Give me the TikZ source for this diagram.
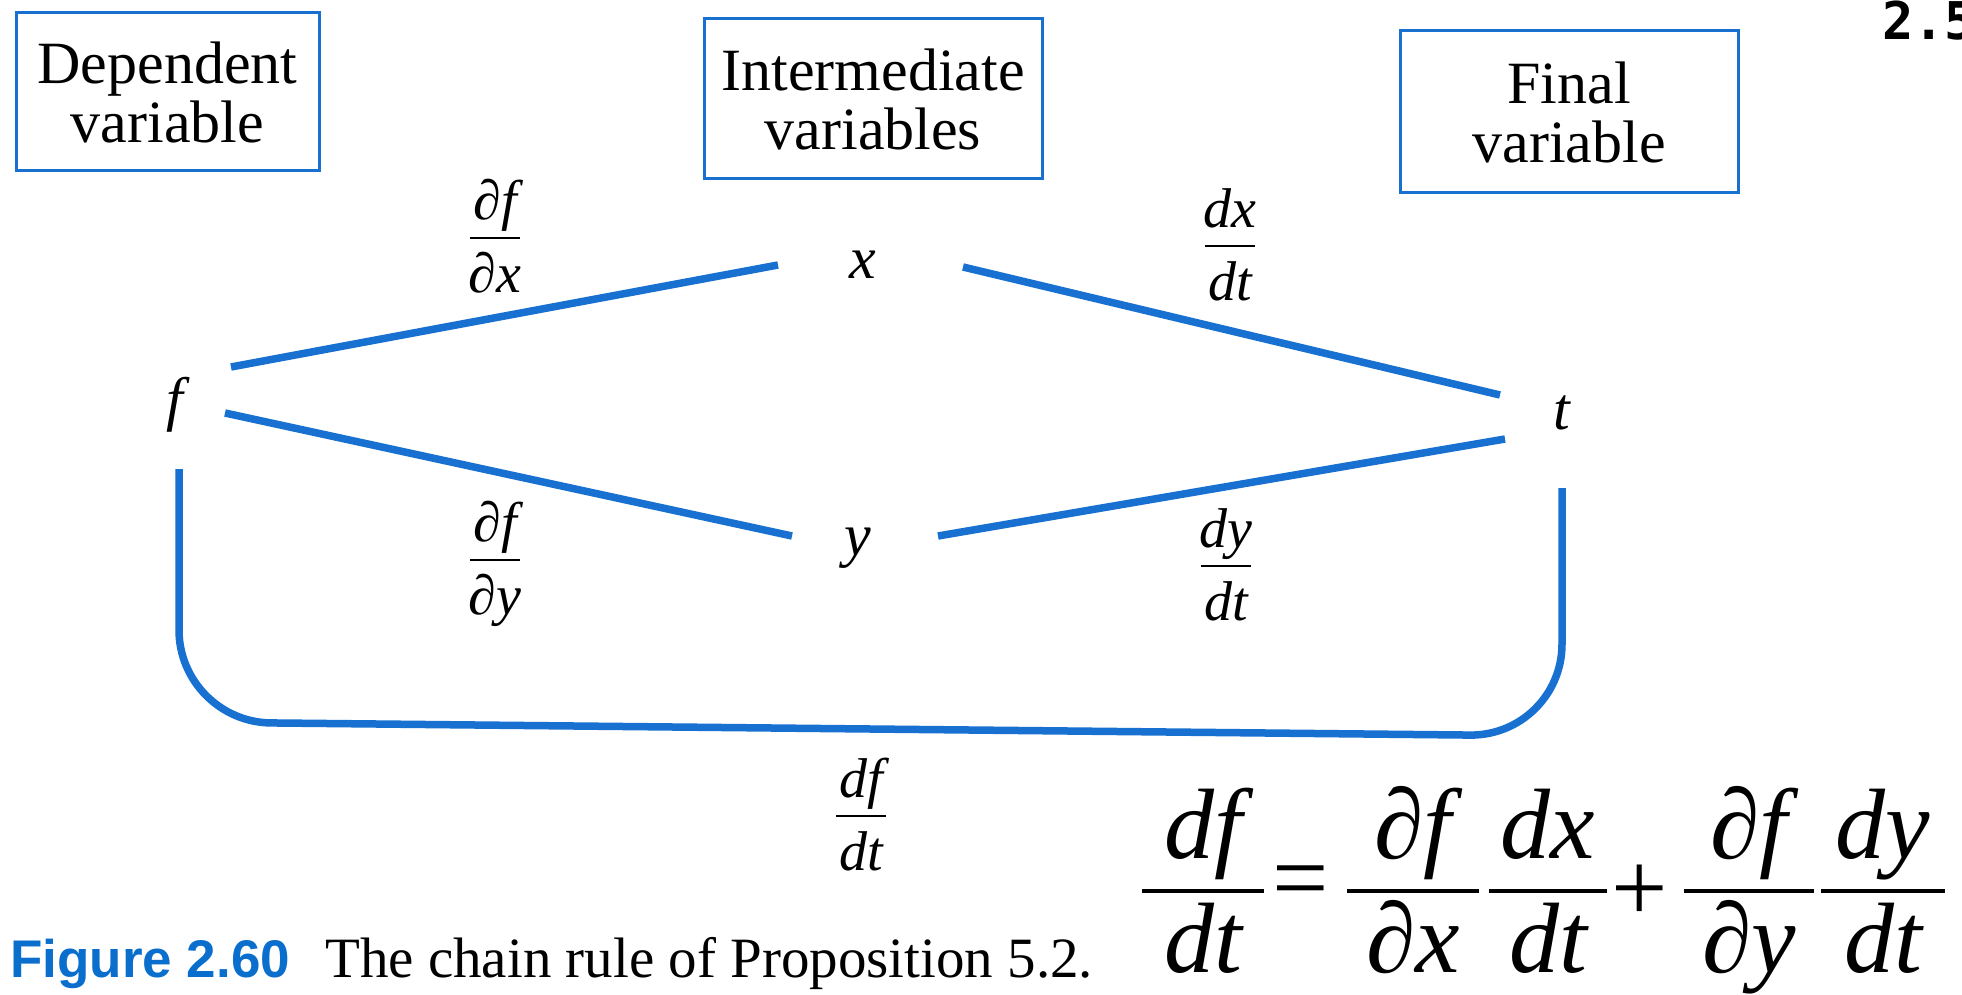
\documentclass[tikz,border=0pt]{standalone}
\usepackage{fontspec}
\setmainfont{Liberation Serif}
\newfontfamily\capfont{Liberation Sans}
\newfontfamily\monofont{DejaVu Sans Mono}
\definecolor{lineblue}{RGB}{24,112,208}
\definecolor{capblue}{RGB}{10,110,205}
\newcommand\smallfrac[5]{%
  \node[lbl] (#1n) at ({#2},{#3-19}) {#4};
  \node[lbl] (#1d) at ({#2},{#3+54}) {#5};
  \draw[sbar] ({#2-25},{#3}) -- ({#2+25},{#3});}
\newcommand\bigfrac[6]{%
  \node[big] (#1n) at ({#2},{#3-33}) {#4};
  \node[big] (#1d) at ({#2},{#3+81}) {#5};
  \draw[bbar] ({#2-#6},{#3}) -- ({#2+#6},{#3});}
\begin{document}
\begin{tikzpicture}[x=1pt,y=-1pt,
  conn/.style={draw=lineblue, line width=7.5pt},
  hdr/.style={draw=lineblue, line width=3pt, align=center,
    font=\fontsize{60}{59}\selectfont, inner sep=0pt},
  var/.style={font=\fontsize{60}{60}\selectfont\itshape, inner sep=0pt},
  lbl/.style={font=\fontsize{56}{56}\selectfont\itshape, inner sep=0pt, anchor=base},
  big/.style={font=\fontsize{100}{100}\selectfont\itshape, inner sep=0pt, anchor=base},
  sbar/.style={draw=black, line width=2.5pt},
  bbar/.style={draw=black, line width=4pt},
  ]
\useasboundingbox (0,0) rectangle (1962,995);
\fill[white] (0,0) rectangle (1962,995);

% header boxes
\node[hdr, minimum width=303pt, minimum height=158pt] (dep) at (167.5,92) {Dependent\\variable};
\node[hdr, minimum width=338pt, minimum height=160pt] (inter) at (873,99) {Intermediate\\variables};
\node[hdr, minimum width=338pt, minimum height=162pt] (final) at (1569,112) {Final\\variable};

% variables
\node[var] (f) at (175,405) {f};
\node[var] (x) at (863,265) {x};
\node[var] (y) at (858,548) {y};
\node[var] (t) at (1562,413) {t};

% connector end points
\coordinate (fx1) at (231,367);
\coordinate (fx2) at (778,265);
\coordinate (xt1) at (963,267);
\coordinate (xt2) at (1500,395);
\coordinate (fy1) at (225,413);
\coordinate (fy2) at (792,536);
\coordinate (yt1) at (938,536);
\coordinate (yt2) at (1505,439);
\coordinate (bl) at (179,469);
\coordinate (br) at (1562,488);

\draw[conn] (fx1) -- (fx2);
\draw[conn] (xt1) -- (xt2);
\draw[conn] (fy1) -- (fy2);
\draw[conn] (yt1) -- (yt2);
\draw[conn, rounded corners=92pt] (bl) -- (179,722) -- (1562,736) -- (br);

% edge labels
\smallfrac{dfdx}{495}{238}{∂f}{∂x}
\smallfrac{dxdt}{1230}{246}{dx}{dt}
\smallfrac{dfdy}{495}{560}{∂f}{∂y}
\smallfrac{dydt}{1226}{566}{dy}{dt}
\smallfrac{dfdt}{861}{816}{df}{dt}

% caption
\node[anchor=base west, inner sep=0pt, text=capblue,
  font=\capfont\bfseries\fontsize{53}{53}\selectfont] (fig) at (10,977) {Figure 2.60};
\node[anchor=base west, inner sep=0pt, font=\fontsize{57}{57}\selectfont] (cap) at (325,977)
  {The chain rule of Proposition 5.2.};

% section number (cut at the right edge)
\node[anchor=base west, inner sep=0pt, font=\monofont\bfseries\fontsize{52}{52}\selectfont] (sec) at (1882,40) {2.5};

% big formula
\bigfrac{Fa}{1203}{891}{df}{dt}{61}
\node[inner sep=0pt, font=\fontsize{100}{100}\selectfont] (eq) at (1301,889) {=};
\bigfrac{Fb}{1413}{891}{∂f}{∂x}{66}
\bigfrac{Fc}{1548}{891}{dx}{dt}{59}
\node[inner sep=0pt, font=\fontsize{100}{100}\selectfont] (plus) at (1640,893) {+};
\bigfrac{Fd}{1749}{891}{∂f}{∂y}{65}
\bigfrac{Fe}{1883}{891}{dy}{dt}{62}
\end{tikzpicture}
\end{document}
